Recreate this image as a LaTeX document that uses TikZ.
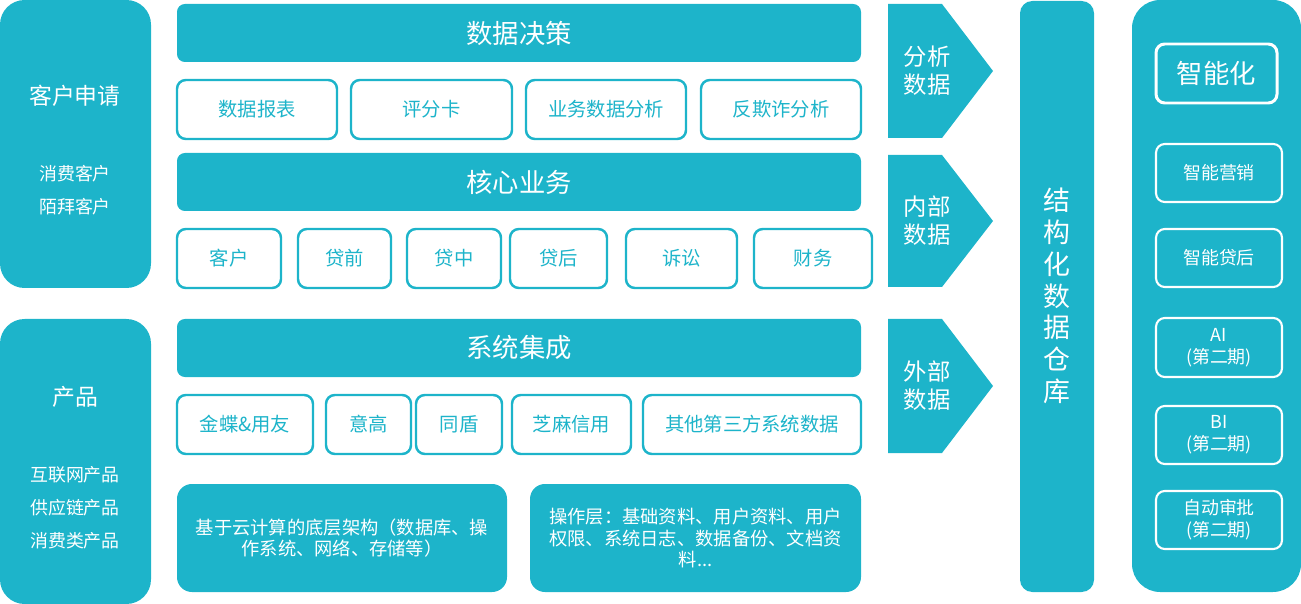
\documentclass[tikz,border=0pt]{standalone}
\usepackage{fontspec}
\setmainfont{Noto Sans CJK SC}
\definecolor{mainTeal}{RGB}{29,180,202}

\begin{document}
\begin{tikzpicture}[x=0.02cm, y=-0.02cm,
    pxsize/.style 2 args={minimum width=#1*0.02cm, minimum height=#2*0.02cm},
    panel/.style={fill=mainTeal, rounded corners=14pt, inner sep=0pt},
    bar/.style={fill=mainTeal, rounded corners=4.5pt, inner sep=0pt, text=white, font=\fontsize{15}{18}\selectfont},
    item/.style={draw=mainTeal, line width=1.4pt, fill=white, rounded corners=5pt, inner sep=0pt, text=mainTeal, font=\fontsize{11}{13}\selectfont},
    base/.style={fill=mainTeal, rounded corners=8.5pt, inner sep=0pt, text=white, align=center, font=\fontsize{10.4}{12.3}\selectfont},
    smart/.style={draw=white, line width=1.2pt, rounded corners=5pt, inner sep=0pt, text=white, align=center, font=\fontsize{10.2}{12.5}\selectfont},
    arrowtext/.style={text=white, align=center, font=\fontsize{13.3}{15.9}\selectfont},
    sidetext/.style={text=white, align=center, font=\fontsize{10.2}{18.7}\selectfont}]
    \useasboundingbox (0,0) rectangle (1301,604);

    % Left panels
    \node[panel, pxsize={151}{288}] (apply) at (75.5,144) {};
    \node[text=white, font=\fontsize{13}{16}\selectfont] (applyTitle) at (75,96) {客户申请};
    \node[sidetext] (applyList) at (75,190) {消费客户\\陌拜客户};
    \node[panel, pxsize={151}{285}] (product) at (75.5,461.5) {};
    \node[text=white, font=\fontsize{13}{16}\selectfont] (productTitle) at (75,397) {产品};
    \node[sidetext] (productList) at (75,508) {互联网产品\\供应链产品\\消费类产品};

    % Data decision layer
    \node[bar, pxsize={684}{58}] (decision) at (519,33) {数据决策};
    \node[item, pxsize={160}{59}] (report) at (257,109.5) {数据报表};
    \node[item, pxsize={161}{59}] (score) at (431.5,109.5) {评分卡};
    \node[item, pxsize={160}{59}] (analysis) at (606,109.5) {业务数据分析};
    \node[item, pxsize={160}{59}] (fraud) at (781,109.5) {反欺诈分析};

    % Core business layer
    \node[bar, pxsize={684}{58}] (core) at (519,182) {核心业务};
    \node[item, pxsize={104}{59}] (customer) at (229,258.5) {客户};
    \node[item, pxsize={93}{59}] (preLoan) at (344.5,258.5) {贷前};
    \node[item, pxsize={94}{59}] (inLoan) at (454,258.5) {贷中};
    \node[item, pxsize={97}{59}] (postLoan) at (558.5,258.5) {贷后};
    \node[item, pxsize={111}{59}] (lawsuit) at (681.5,258.5) {诉讼};
    \node[item, pxsize={118}{59}] (finance) at (813,258.5) {财务};

    % System integration layer
    \node[bar, pxsize={684}{58}] (integration) at (519,348) {系统集成};
    \node[item, pxsize={136}{59}] (kingdee) at (245,424.5) {金蝶\&用友};
    \node[item, pxsize={85}{59}] (yigao) at (368.5,424.5) {意高};
    \node[item, pxsize={86}{59}] (tongdun) at (459,424.5) {同盾};
    \node[item, pxsize={119}{59}] (sesame) at (571.5,424.5) {芝麻信用};
    \node[item, pxsize={218}{59}] (thirdParty) at (752,424.5) {其他第三方系统数据};

    % Base layers
    \node[base, pxsize={330}{108}] (cloud) at (342,538) {基于云计算的底层架构（数据库、操\\作系统、网络、存储等）};
    \node[base, pxsize={331}{108}] (operation) at (695.5,538) {操作层：基础资料、用户资料、用户\\权限、系统日志、数据备份、文档资\\料...};

    % Data arrows
    \fill[mainTeal] (888,4) -- (942,4) -- (993,71) -- (942,138) -- (888,138) -- cycle;
    \node[arrowtext] (analysisData) at (927,71) {分析\\数据};
    \fill[mainTeal] (888,155) -- (942,155) -- (993,221) -- (942,287) -- (888,287) -- cycle;
    \node[arrowtext] (innerData) at (927,221) {内部\\数据};
    \fill[mainTeal] (888,319) -- (942,319) -- (993,386) -- (942,453) -- (888,453) -- cycle;
    \node[arrowtext] (outerData) at (927,386) {外部\\数据};

    % Warehouse
    \node[fill=mainTeal, rounded corners=7pt, inner sep=0pt, pxsize={74}{591}] (warehouse) at (1057,296.5) {};
    \node[text=white, align=center, font=\fontsize{15.3}{18.1}\selectfont] (warehouseText) at (1057,296) {结\\构\\化\\数\\据\\仓\\库};

    % Intelligence panel
    \node[fill=mainTeal, rounded corners=16pt, inner sep=0pt, pxsize={169}{592}] (smartPanel) at (1216.5,296) {};
    \node[smart, line width=1.7pt, font=\fontsize{15}{18}\selectfont, pxsize={121}{59}] (smartTitle) at (1216.5,73.5) {智能化};
    \node[smart, pxsize={126}{58}] (marketing) at (1219,173) {智能营销};
    \node[smart, pxsize={126}{58}] (collection) at (1219,258) {智能贷后};
    \node[smart, pxsize={126}{59}] (ai) at (1219,347.5) {AI\\(第二期)};
    \node[smart, pxsize={126}{58}] (bi) at (1219,435) {BI\\(第二期)};
    \node[smart, pxsize={126}{58}] (approval) at (1219,520) {自动审批\\(第二期)};
\end{tikzpicture}
\end{document}
